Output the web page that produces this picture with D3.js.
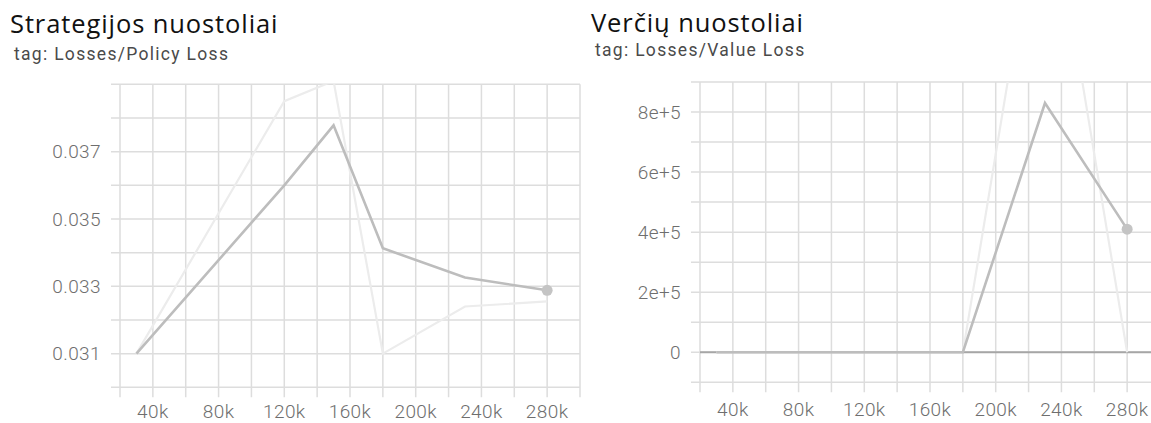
<!DOCTYPE html>
<html><head><meta charset="utf-8">
<script src="https://cdn.jsdelivr.net/npm/d3@7"></script>
<style>
html,body{margin:0;padding:0;background:#fff;}
svg{display:block;}
.tick-label{font-family:Roboto,"Noto Sans",sans-serif;font-weight:300;fill:#6e6e6e;}
</style></head>
<body>
<svg id="chart" width="1151" height="423"></svg>
<script>
// Data (steps shared by both panels)
const steps = [30000, 120000, 150000, 180000, 230000, 280000];
const policyRaw = [0.031, 0.0385, 0.0391, 0.031, 0.0324, 0.03255];
const policySmoothed = [0.031, 0.0360, 0.03778, 0.03413, 0.03326, 0.03288];
const valueRaw = [0, 0, 0, 0, 1650000, 0];
const valueSmoothed = [0, 0, 0, 0, 830000, 410000];
const xTickLabels = ["40k","80k","120k","160k","200k","240k","280k"];
const policyYTicks = ["0.031","0.033","0.035","0.037"];
const valueYTicks = ["0","2e+5","4e+5","6e+5","8e+5"];

const titles = ["Strategijos nuostoliai", "Verčių nuostoliai"];
const tags = ["tag: Losses/Policy Loss", "tag: Losses/Value Loss"];

const svg = d3.select("#chart");

function panel(cfg){
  const g = svg.append("g");
  const x = d3.scaleLinear().domain([20000, 300000]).range([cfg.x0, cfg.x1]);
  const y = d3.scaleLinear().domain(cfg.yDomain).range([cfg.y1, cfg.y0]);

  // title & subtitle
  g.append("text").attr("x", cfg.tx).attr("y", cfg.ty)
    .attr("font-family", "'Open Sans','Noto Sans',sans-serif")
    .attr("font-size", 25.5).attr("letter-spacing", 0.9)
    .attr("fill", "#111").text(cfg.title);
  g.append("text").attr("x", cfg.tx + 4).attr("y", cfg.sy)
    .attr("font-family", "Roboto,sans-serif")
    .attr("font-size", 17.5).attr("letter-spacing", 1.3)
    .attr("fill", "#4a4a4a").text(cfg.tag);

  const grid = "#dddddd";
  // vertical gridlines every 20k
  const xt = d3.range(20000, 300001, 20000);
  g.append("g").selectAll("line").data(xt).join("line")
    .attr("x1", d => x(d)).attr("x2", d => x(d))
    .attr("y1", cfg.y0).attr("y2", cfg.y1 + 10)
    .attr("stroke", grid).attr("stroke-width", 1.5);
  // horizontal gridlines
  g.append("g").selectAll("line").data(cfg.yGrid).join("line")
    .attr("x1", cfg.x0 - 9).attr("x2", cfg.x1)
    .attr("y1", d => y(d)).attr("y2", d => y(d))
    .attr("stroke", grid).attr("stroke-width", 1.5);

  // x tick labels (labels at 40k multiples)
  const labeled = d3.range(40000, 280001, 40000);
  g.append("g").selectAll("text").data(labeled).join("text")
    .attr("class", "tick-label")
    .attr("x", d => x(d)).attr("y", cfg.labelY)
    .attr("text-anchor", "middle").attr("font-size", 19)
    .attr("letter-spacing", 0.4)
    .text((d, i) => xTickLabels[i]);
  // y tick labels
  g.append("g").selectAll("text").data(cfg.yTickVals).join("text")
    .attr("class", "tick-label")
    .attr("x", cfg.x0 - 19).attr("y", d => y(d))
    .attr("dy", "0.35em")
    .attr("text-anchor", "end").attr("font-size", 19)
    .attr("letter-spacing", 0.4)
    .text((d, i) => cfg.yTickLabels[i]);

  const clipId = "clip" + cfg.id;
  svg.append("clipPath").attr("id", clipId).append("rect")
    .attr("x", cfg.x0).attr("y", cfg.y0).attr("width", cfg.x1 - cfg.x0).attr("height", cfg.y1 - cfg.y0);
  const plot = g.append("g").attr("clip-path", `url(#${clipId})`);

  if (cfg.zero) {
    plot.append("line").attr("x1", cfg.x0).attr("x2", cfg.x1)
      .attr("y1", y(0)).attr("y2", y(0)).attr("stroke", "#a6a6a6").attr("stroke-width", 2);
  }

  const line = d3.line().x(d => x(d[0])).y(d => y(d[1]));
  plot.append("path").datum(steps.map((s, i) => [s, cfg.raw[i]]))
    .attr("d", line).attr("fill", "none")
    .attr("stroke", "#ececec").attr("stroke-width", 2.2);
  plot.append("path").datum(steps.map((s, i) => [s, cfg.smooth[i]]))
    .attr("d", line).attr("fill", "none")
    .attr("stroke", "#bdbdbd").attr("stroke-width", 2.6);
  const last = steps.length - 1;
  plot.append("circle").attr("cx", x(steps[last])).attr("cy", y(cfg.smooth[last]))
    .attr("r", 5.5).attr("fill", "#c4c4c4");
}

panel({
  id: 1, x0: 120, x1: 580, y0: 84.3, y1: 387.3,
  yDomain: [0.030, 0.039],
  yGrid: d3.range(0, 10).map(i => 0.030 + i * 0.001),
  yTickVals: policyYTicks.map(Number), yTickLabels: policyYTicks,
  raw: policyRaw, smooth: policySmoothed, labelY: 418,
  title: titles[0], tag: tags[0], tx: 10, ty: 33, sy: 60
});
panel({
  id: 2, x0: 700, x1: 1160, y0: 82, y1: 382.3,
  yDomain: [-100000, 900000],
  yGrid: d3.range(0, 11).map(i => -100000 + i * 100000),
  yTickVals: valueYTicks.map(v => +v), yTickLabels: valueYTicks,
  raw: valueRaw, smooth: valueSmoothed, zero: true, labelY: 416,
  title: titles[1], tag: tags[1], tx: 591, ty: 32, sy: 56
});
</script>
</body></html>
